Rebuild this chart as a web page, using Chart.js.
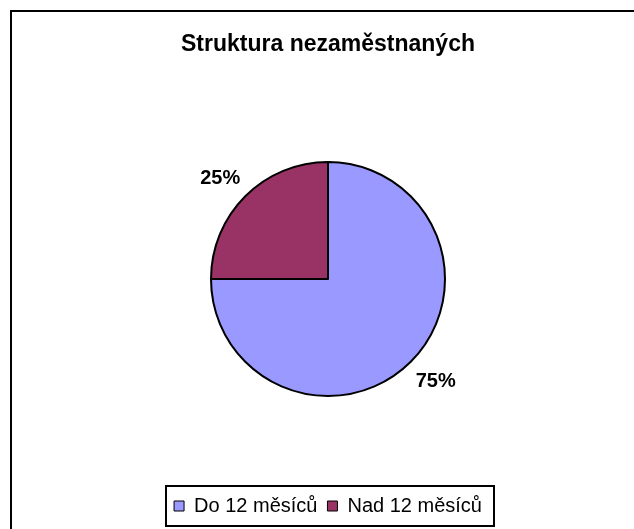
<!DOCTYPE html>
<html>
<head>
<meta charset="utf-8">
<script src="https://cdn.jsdelivr.net/npm/chart.js@4/dist/chart.umd.min.js"></script>
<style>
  html, body { margin: 0; padding: 0; background: #fff; overflow: hidden; }
  #frame {
    position: absolute; left: 10px; top: 10px;
    width: 640px; height: 540px;
    border: 2px solid #000; box-sizing: border-box;
  }
  #chart { position: absolute; left: 0; top: 0; }
</style>
</head>
<body>
<div id="frame">
  <canvas id="chart" width="632" height="517"></canvas>
</div>
<script>
// data
var chartTitle = 'Struktura nezaměstnaných';
var categories = ['Do 12 měsíců', 'Nad 12 měsíců'];
var shares = [75, 25];
var sliceColors = ['#9999FF', '#993366'];

var fontFamily = '"Liberation Sans", Arial, sans-serif';

// percent labels outside the slices
var percentLabels = {
    id: 'percentLabels',
    afterDatasetsDraw: function(chart) {
        var ctx = chart.ctx;
        var meta = chart.getDatasetMeta(0);
        var total = shares.reduce(function(a, b) { return a + b; }, 0);
        ctx.save();
        ctx.font = 'bold 20px ' + fontFamily;
        ctx.fillStyle = '#000';
        ctx.textAlign = 'center';
        ctx.textBaseline = 'middle';
        meta.data.forEach(function(arc, i) {
            var p = arc.getProps(['x', 'y', 'startAngle', 'endAngle', 'outerRadius'], true);
            var mid = (p.startAngle + p.endAngle) / 2 - 0.03;
            var r = p.outerRadius + 31;
            var pct = Math.round(shares[i] / total * 100) + '%';
            ctx.fillText(pct, p.x + Math.cos(mid) * r, p.y + Math.sin(mid) * r + 1);
        });
        ctx.restore();
    }
};

// frame round the legend
var legendFrame = {
    id: 'legendFrame',
    afterDraw: function(chart) {
        var boxes = chart.legend.legendHitBoxes;
        if (!boxes || !boxes.length) return;
        var left = Math.min.apply(null, boxes.map(function(b) { return b.left; }));
        var right = Math.max.apply(null, boxes.map(function(b) { return b.left + b.width; }));
        var mid = boxes[0].top + boxes[0].height / 2;
        var ctx = chart.ctx;
        ctx.save();
        ctx.strokeStyle = '#000';
        ctx.lineWidth = 2;
        ctx.strokeRect(Math.round(left - 8), Math.round(mid - 20), Math.round(right - left + 20), 40);
        ctx.restore();
    }
};

var ctx = document.getElementById('chart').getContext('2d');
var pieChart = new Chart(ctx, {
    type: 'pie',
    data: {
        labels: categories,
        datasets: [{
            data: shares,
            backgroundColor: sliceColors,
            borderColor: '#000',
            borderWidth: 2,
            radius: 117
        }]
    },
    options: {
        responsive: false,
        animation: false,
        devicePixelRatio: 1,
        layout: { padding: { top: 0, bottom: 3, left: 0, right: 0 } },
        plugins: {
            title: {
                display: true,
                text: chartTitle,
                color: '#000',
                font: { family: fontFamily, size: 23, weight: 'bold', lineHeight: 1.2 },
                padding: { top: 19.2, bottom: 13.2 }
            },
            legend: {
                position: 'bottom',
                labels: {
                    color: '#000',
                    font: { family: fontFamily, size: 20 },
                    boxWidth: 10,
                    boxHeight: 10,
                    padding: 10,
                    generateLabels: function(chart) {
                        return categories.map(function(name, i) {
                            return {
                                text: name,
                                fillStyle: sliceColors[i],
                                strokeStyle: '#000',
                                lineWidth: 1,
                                fontColor: '#000',
                                index: i
                            };
                        });
                    }
                }
            },
            tooltip: { enabled: false }
        }
    },
    plugins: [percentLabels, legendFrame]
});
</script>
</body>
</html>
